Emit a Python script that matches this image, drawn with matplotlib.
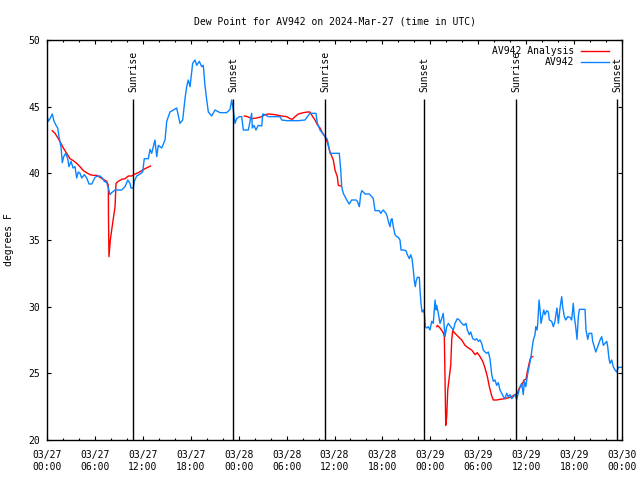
import numpy as np
import matplotlib
matplotlib.use("Agg")
import matplotlib.pyplot as plt

# hours since 03/27 00:00 UTC
obs_hours = [0.00, 0.16, 0.38, 0.66, 0.88, 1.13, 1.34, 1.50, 1.75, 1.92, 2.09, 2.34, 2.59, 2.75, 3.01,
             3.26, 3.51, 3.72, 3.92, 4.13, 4.35, 4.67, 4.97, 5.26, 5.60, 6.01, 6.35, 6.64, 6.92, 7.18,
             7.48, 7.68, 7.89, 8.10, 8.52, 8.93, 9.35, 9.77, 10.11, 10.39, 10.52, 10.81, 10.93, 11.23,
             11.65, 11.98, 12.18, 12.69, 12.90, 13.11, 13.52, 13.74, 13.94, 14.36, 14.78, 14.99, 15.40,
             15.82, 16.24, 16.65, 16.99, 17.28, 17.49, 17.69, 17.91, 18.24, 18.53, 18.75, 19.07, 19.37,
             19.57, 19.78, 20.00, 20.20, 20.62, 21.04, 21.66, 22.50, 22.92, 23.13, 23.33, 23.54, 23.75,
             24.08, 24.38, 24.58, 25.21, 25.33, 25.51, 25.63, 25.71, 25.92, 26.17, 26.46, 26.89, 27.01,
             27.30, 27.71, 28.34, 29.18, 29.39, 30.02, 30.84, 31.47, 32.31, 32.60, 32.93, 33.68, 33.85,
             33.97, 34.18, 34.52, 34.81, 35.10, 35.44, 36.60, 36.78, 36.90, 37.10, 37.32, 37.53, 37.85,
             38.15, 38.69, 38.86, 39.11, 39.28, 39.41, 39.61, 39.82, 40.36, 40.66, 40.86, 41.07, 41.61,
             41.79, 41.91, 42.11, 42.45, 42.61, 42.74, 42.95, 43.07, 43.20, 43.36, 43.58, 43.79, 43.99,
             44.20, 44.33, 44.62, 44.95, 45.12, 45.37, 45.54, 45.71, 45.87, 46.00, 46.12, 46.21, 46.37,
             46.62, 46.71, 46.83, 46.96, 47.12, 47.25, 47.37, 47.55, 47.75, 47.96, 48.17, 48.37, 48.59,
             48.71, 48.80, 49.00, 49.21, 49.42, 49.62, 49.84, 50.05, 50.25, 50.55, 50.88, 51.09, 51.38,
             51.63, 51.93, 52.22, 52.47, 52.63, 52.88, 53.06, 53.31, 53.60, 53.81, 54.01, 54.22, 54.43,
             54.63, 54.85, 55.06, 55.26, 55.47, 55.69, 55.89, 56.10, 56.31, 56.51, 56.72, 56.94, 57.14,
             57.35, 57.56, 57.76, 57.98, 58.19, 58.39, 58.60, 58.81, 59.02, 59.23, 59.44, 59.64, 59.77,
             59.95, 60.20, 60.36, 60.61, 60.77, 60.90, 61.11, 61.20, 61.36, 61.45, 61.61, 61.74, 61.86,
             62.03, 62.20, 62.36, 62.57, 62.78, 62.90, 63.20, 63.40, 63.61, 63.74, 63.86, 64.03, 64.24,
             64.45, 64.57, 64.78, 64.95, 65.20, 65.49, 65.70, 65.90, 66.03, 66.20, 66.37, 66.53, 66.66,
             67.37, 67.49, 67.71, 67.87, 68.21, 68.33, 68.53, 68.71, 68.96, 69.25, 69.46, 69.66, 69.87,
             70.09, 70.21, 70.37, 70.50, 70.71, 70.91, 71.12, 71.34, 71.54, 71.97]
obs_dewpt = [44.4, 43.9, 44.1, 44.45, 43.9, 43.6, 43.4, 42.75, 42.0, 40.8, 41.25, 41.5, 41.1, 40.5, 40.9,
             40.4, 40.5, 39.65, 40.1, 40.0, 39.65, 39.9, 39.65, 39.2, 39.2, 39.7, 39.8, 39.8, 39.65, 39.4,
             39.3, 38.9, 38.4, 38.55, 38.75, 38.75, 38.75, 39.0, 39.5, 39.25, 38.9, 38.9, 39.4, 39.8,
             39.95, 40.1, 41.1, 41.1, 41.8, 41.5, 42.5, 41.25, 42.1, 41.9, 42.5, 43.9, 44.6,
             44.75, 44.9, 43.75, 44.0, 45.6, 46.5, 47.0, 46.5, 48.25, 48.5, 48.1, 48.4, 48.0,
             48.1, 46.6, 45.5, 44.6, 44.3, 44.75, 44.55, 44.55, 44.8, 45.5, 44.75, 43.75, 44.1,
             44.25, 44.25, 43.25, 43.25, 43.6, 44.1, 44.5, 43.4, 43.6, 43.25, 43.6, 43.55, 44.45,
             44.4, 44.25, 44.25, 44.25, 44.0, 43.95, 43.95, 43.95, 44.0, 44.25, 44.5, 44.5, 43.75,
             43.6, 43.25, 43.0, 42.75, 42.55, 41.5, 41.5, 40.25, 39.0, 38.5, 38.25, 38.0, 37.7,
             38.0, 38.0, 37.9, 37.5, 38.4, 38.7, 38.6, 38.45, 38.45, 38.25, 38.1, 37.2, 37.2,
             37.0, 37.1, 37.25, 37.0, 36.75, 36.4, 36.0, 36.5, 36.6, 36.0, 35.4, 35.25, 35.2,
             35.0, 34.25, 34.25, 34.2, 33.9, 33.6, 33.9, 33.6, 32.75, 31.9, 31.5, 31.9, 32.2,
             32.2, 31.25, 30.25, 29.6, 29.75, 29.5, 28.5, 28.4, 28.5, 28.25, 28.9, 28.75, 30.5,
             29.75, 30.1, 29.5, 28.75, 29.1, 29.5, 27.75, 28.5, 28.75, 28.5, 28.25, 28.75, 29.1,
             29.0, 28.75, 28.6, 28.75, 28.25, 27.9, 28.1, 27.6, 27.5, 27.6, 27.4, 27.5, 27.25,
             26.75, 26.6, 26.5, 26.6, 26.1, 24.9, 24.4, 24.5, 24.1, 24.3, 23.75, 23.5, 23.25,
             23.1, 23.5, 23.25, 23.4, 23.1, 23.25, 23.4, 23.05, 23.5, 24.0, 24.25, 23.4, 24.4,
             24.0, 25.0, 25.5, 26.25, 27.0, 27.5, 27.9, 28.5, 28.25, 28.75, 30.5, 29.75, 28.75,
             29.25, 29.75, 29.4, 29.7, 29.6, 29.0, 28.9, 28.5, 28.9, 29.5, 29.9, 28.75, 29.9,
             30.75, 30.0, 29.25, 29.0, 29.25, 29.2, 29.0, 30.25, 29.25, 28.5, 27.55, 29.25, 29.8,
             29.8, 28.25, 27.55, 28.0, 28.0, 27.4, 27.0, 26.6, 27.0, 27.5, 27.75, 27.1, 27.25,
             27.4, 27.0, 26.1, 25.75, 26.0, 25.5, 25.25, 25.1, 25.45, 25.45]

# analysis series, three separate pieces
ana1_hours = [0.66, 1.00, 1.42, 1.75, 2.04, 2.47, 2.88, 3.29, 3.72, 4.13, 4.55, 4.97, 5.38, 5.80, 6.22,
              6.64, 7.05, 7.48, 7.68, 7.70, 7.76, 7.93, 8.10, 8.30, 8.52, 8.64, 8.93, 9.35, 9.77, 10.18,
              10.61, 11.02, 11.43, 11.86, 12.27, 12.96]
ana1_dewpt = [43.2, 43.0, 42.6, 42.25, 41.9, 41.5, 41.1, 40.95, 40.75, 40.5, 40.2, 40.05, 39.9, 39.85, 39.85,
              39.7, 39.55, 39.4, 39.1, 36.6, 33.75, 35.0, 35.75, 36.6, 37.5, 39.25, 39.4, 39.55, 39.6, 39.8,
              39.8, 39.95, 40.05, 40.2, 40.35, 40.55]
ana2_hours = [24.71, 25.13, 25.63, 26.26, 26.89, 27.30, 27.71, 28.55, 29.39, 30.02, 30.43, 30.72, 31.06,
              31.47, 32.10, 32.65, 32.93, 33.22, 33.56, 33.90, 34.19, 34.47, 34.81, 35.15, 35.44, 35.85,
              36.06, 36.35, 36.48, 36.78]
ana2_dewpt = [44.3, 44.25, 44.1, 44.15, 44.25, 44.4, 44.45, 44.4, 44.3, 44.25, 44.1, 44.05, 44.25,
              44.45, 44.55, 44.6, 44.6, 44.3, 44.0, 43.6, 43.4, 43.05, 42.75, 42.25, 41.6, 41.0,
              40.25, 39.75, 39.1, 39.05]
ana3_hours = [48.80, 48.88, 49.21, 49.62, 49.75, 49.84, 49.93, 50.05, 50.18, 50.38, 50.55, 50.68, 50.80,
              51.09, 51.50, 51.93, 52.34, 52.76, 53.18, 53.60, 53.88, 54.22, 54.56, 54.85, 55.14, 55.39,
              55.69, 55.89, 56.31, 56.72, 57.35, 57.98, 58.60, 58.89, 59.14, 59.44, 59.73, 59.98, 60.14,
              60.39, 60.57, 60.82]
ana3_dewpt = [28.5, 28.6, 28.4, 28.05, 27.75, 24.6, 21.1, 21.75, 23.75, 24.75, 25.6, 27.5, 28.2,
              28.0, 27.75, 27.5, 27.1, 26.9, 26.75, 26.4, 26.55, 26.25, 25.9, 25.4, 24.75, 24.0,
              23.3, 23.0, 23.0, 23.05, 23.1, 23.2, 23.4, 23.5, 23.9, 24.1, 24.5, 24.55, 25.1,
              25.8, 26.2, 26.25]

event_hours = [10.75, 23.28, 34.8, 47.2, 58.73, 71.35]
event_names = ["Sunrise", "Sunset", "Sunrise", "Sunset", "Sunrise", "Sunset"]

xtick_hours = list(range(0, 73, 6))
xtick_labels = ["03/27\n00:00", "03/27\n06:00", "03/27\n12:00", "03/27\n18:00",
                "03/28\n00:00", "03/28\n06:00", "03/28\n12:00", "03/28\n18:00",
                "03/29\n00:00", "03/29\n06:00", "03/29\n12:00", "03/29\n18:00",
                "03/30\n00:00"]
ytick_vals = [20, 25, 30, 35, 40, 45, 50]

RED = "#ff0000"
BLUE = "#0a84ff"
FS = 7

plt.rcParams["font.family"] = ["DejaVu Sans Mono"]
plt.rcParams["font.size"] = FS

fig = plt.figure(figsize=(6.4, 4.8), dpi=100)
ax = fig.add_axes([47 / 640, 40 / 480, 575 / 640, 400 / 480])

nan = [np.nan]
ana_h = ana1_hours + nan + ana2_hours + nan + ana3_hours
ana_v = ana1_dewpt + nan + ana2_dewpt + nan + ana3_dewpt

ax.plot(ana_h, ana_v, color=RED, lw=1.0)
ax.plot(obs_hours, obs_dewpt, color=BLUE, lw=1.0)

ax.vlines(event_hours, 20, 45.6, color="black", lw=1.0)
for t, name in zip(event_hours, event_names):
    ax.text(t + 0.1, 46.1, name, rotation=90, ha="center", va="bottom", fontsize=FS)

ax.set_xlim(0, 72)
ax.set_ylim(20, 50)
ax.set_xticks(xtick_hours)
ax.set_xticklabels(xtick_labels, linespacing=1.3)
ax.set_xticks(range(0, 73, 2), minor=True)
ax.set_yticks(ytick_vals)
ax.tick_params(which="both", direction="in", top=True, right=True, width=0.8)
ax.tick_params(which="major", length=3.2)
ax.tick_params(which="minor", length=1.7)
ax.tick_params(axis="x", pad=7)
ax.tick_params(axis="y", pad=5)
for s in ax.spines.values():
    s.set_linewidth(1.0)

ax.set_title("Dew Point for AV942 on 2024-Mar-27 (time in UTC)", fontsize=FS, pad=11)
ax.set_ylabel("degrees F", fontsize=FS, labelpad=10)

# key in upper right
for row, (lab, col) in enumerate([("AV942 Analysis", RED), ("AV942", BLUE)]):
    yy = 0.973 - row * 0.029
    ax.text(0.9165, yy, lab, transform=ax.transAxes, ha="right", va="center", fontsize=FS)
    ax.plot([0.9287, 0.9774], [yy, yy], transform=ax.transAxes, color=col, lw=1.0, clip_on=False)

fig.savefig("out.png", dpi=100)
